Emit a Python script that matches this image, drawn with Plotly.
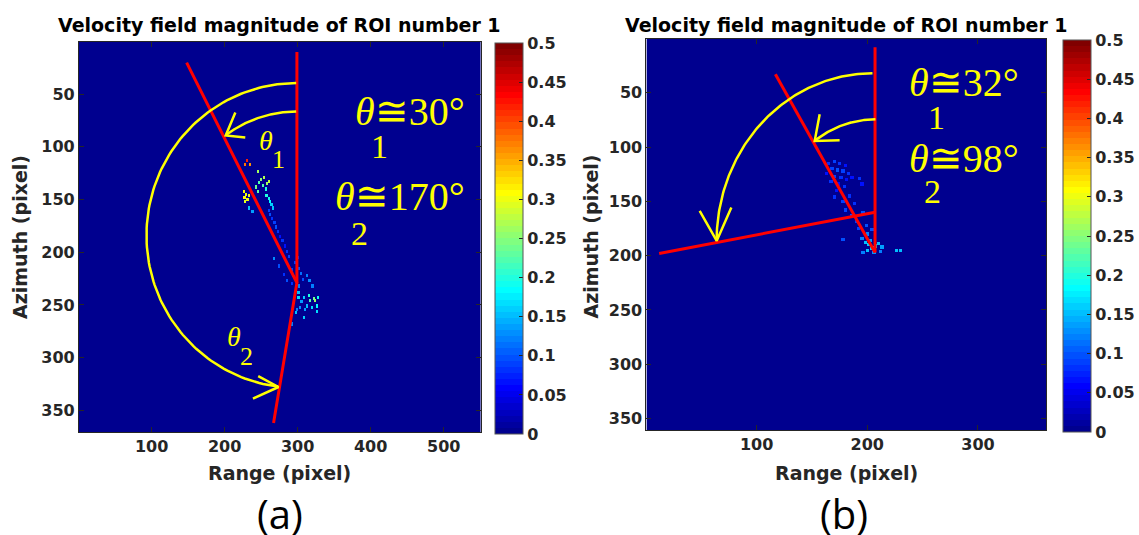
import numpy as np
import plotly.graph_objects as go

W, H = 1139, 535

# ---------------- data ----------------
A_NX, A_NY = 550, 370          # panel (a) image size (range x azimuth)
B_NX, B_NY = 361, 360          # panel (b) image size

A_XTICKS = [100, 200, 300, 400, 500]
A_YTICKS = [50, 100, 150, 200, 250, 300, 350]
B_XTICKS = [100, 200, 300]
B_YTICKS = [50, 100, 150, 200, 250, 300, 350]
CBAR_TICKS = [0, 0.05, 0.1, 0.15, 0.2, 0.25, 0.3, 0.35, 0.4, 0.45, 0.5]
CBAR_LABELS = ["0", "0.05", "0.1", "0.15", "0.2", "0.25", "0.3", "0.35", "0.4", "0.45", "0.5"]

# non-zero velocity pixels, panel (a): range, azimuth, magnitude
A_SPECK_X = [230, 228, 235, 246, 261,
             243, 247, 250, 254, 252, 256, 246, 258,
             226, 229, 227, 231, 233, 228,
             257, 260, 262, 264, 266, 233, 238,
             260, 262, 265, 268, 270, 273, 276, 279, 282, 285, 288,
             267, 274, 281, 285, 292, 293, 292, 301, 304, 307, 302, 312, 316, 320, 296, 300,
             301, 301, 308, 315, 317, 322, 324, 328, 326, 326, 313, 310, 308, 303, 299, 297, 292, 305, 319]
A_SPECK_Y = [113, 117, 117, 123, 133,
             138, 134, 131, 129, 137, 140, 142, 135,
             142, 145, 148, 150, 146, 152,
             146, 149, 152, 155, 158, 158, 161,
             160, 164, 168, 172, 176, 180, 185, 189, 194, 199, 204,
             206, 213, 221, 227, 216, 222, 230, 215, 220, 226, 232, 222, 227, 232, 210, 205,
             238, 243, 243, 241, 246, 244, 246, 243, 251, 256, 251, 254, 262, 252, 254, 257, 268, 247, 252]
A_SPECK_V = [0.42, 0.38, 0.36, 0.26, 0.28,
             0.24, 0.22, 0.25, 0.27, 0.22, 0.20, 0.23, 0.26,
             0.31, 0.30, 0.31, 0.30, 0.30, 0.29,
             0.20, 0.19, 0.18, 0.16, 0.15, 0.15, 0.14,
             0.09, 0.10, 0.08, 0.09, 0.10, 0.08, 0.07, 0.08, 0.07, 0.08, 0.09,
             0.13, 0.10, 0.08, 0.10, 0.09, 0.10, 0.08, 0.10, 0.11, 0.10, 0.12, 0.12, 0.13, 0.12, 0.09, 0.08,
             0.15, 0.17, 0.16, 0.20, 0.22, 0.24, 0.26, 0.19, 0.18, 0.17, 0.15, 0.14, 0.16, 0.13, 0.12, 0.15, 0.12, 0.14, 0.17]

# non-zero velocity pixels, panel (b)
B_SPECK_X = [165, 170, 175, 180, 168, 173, 178, 183, 163, 170, 176, 181, 186, 167, 174, 179, 172,
             193, 195, 170, 178, 184, 188, 180, 186, 190, 196, 199, 192, 178, 204, 200,
             195, 198, 201, 204, 207, 210, 213, 203, 200, 206, 196, 212, 226, 230]
B_SPECK_Y = [115, 113, 115, 117, 120, 121, 122, 124, 124, 127, 128, 130, 128, 132, 134, 136, 140,
             129, 134, 146, 150, 145, 152, 158, 163, 168, 160, 172, 175, 185, 176, 180,
             184, 188, 190, 193, 191, 189, 192, 186, 195, 197, 197, 196, 195, 195]
B_SPECK_V = [0.08, 0.09, 0.08, 0.07, 0.09, 0.10, 0.09, 0.08, 0.07, 0.09, 0.08, 0.07, 0.07, 0.08, 0.07, 0.08, 0.07,
             0.08, 0.07, 0.08, 0.09, 0.08, 0.08, 0.09, 0.10, 0.09, 0.10, 0.10, 0.09, 0.10, 0.10, 0.12,
             0.12, 0.15, 0.16, 0.16, 0.17, 0.15, 0.14, 0.14, 0.15, 0.13, 0.12, 0.12, 0.15, 0.15]

# red direction lines (data units)
A_LINE_X = [148, 299, 267]
A_LINE_Y = [20, 229, 362]
A_VLINE_X = [299, 299]
A_VLINE_Y = [10, 229]
B_LINE1_X = [117, 207]
B_LINE1_Y = [33, 197]
B_LINE2_X = [12, 207]
B_LINE2_Y = [198, 160]
B_VLINE_X = [207, 207]
B_VLINE_Y = [8, 197]

# yellow angle arcs: centre x, centre y, radius x, radius y, sweep (deg)
A_OUTER_ARC = (298, 184, 205, 144.5, 173)
A_INNER_ARC = (298, 177.3, 159.7, 110.8, 37)
B_OUTER_ARC = (204.7, 186.3, 140.8, 154.3, 90)
B_INNER_ARC = (207.4, 163.2, 87.2, 88.7, 39)
# arrow heads: barb, tip, barb
A_OUTER_HEAD_X = [246, 273.8, 238.8]
A_OUTER_HEAD_Y = [317.4, 327.8, 338.8]
A_INNER_HEAD_X = [214.7, 201.5, 228.3]
A_INNER_HEAD_Y = [67.4, 89.2, 91.1]
B_OUTER_HEAD_X = [48.6, 64.0, 77.2]
B_OUTER_HEAD_Y = [158.7, 186.3, 155.6]
B_INNER_HEAD_X = [157, 152.5, 175]
B_INNER_HEAD_Y = [69.8, 94.3, 93.7]

# ---------------- helpers ----------------
def jet64():
    cs = []
    for i in range(64):
        x = (i + 1) / 64.0
        r = min(max(1.5 - abs(4 * x - 3), 0), 1)
        g = min(max(1.5 - abs(4 * x - 2), 0), 1)
        b = min(max(1.5 - abs(4 * x - 1), 0), 1)
        c = "rgb(%d,%d,%d)" % (round(r * 255), round(g * 255), round(b * 255))
        cs.append([i / 64.0, c])
        cs.append([(i + 1) / 64.0, c])
    return cs

JET = jet64()


def make_field(nx, ny, xs, ys, vs, half=1):
    z = np.zeros((ny, nx))
    for x, y, v in zip(xs, ys, vs):
        z[max(y - 1 - half, 0):y + half, max(x - 1 - half, 0):x + half] = v
    return z


def arc(params, n=120):
    cx, cy, rx, ry, sweep = params
    p = np.radians(np.linspace(0, sweep, n))
    return cx - rx * np.sin(p), cy - ry * np.cos(p)


zA = make_field(A_NX, A_NY, A_SPECK_X, A_SPECK_Y, A_SPECK_V)
zB = make_field(B_NX, B_NY, B_SPECK_X, B_SPECK_Y, B_SPECK_V)

FONT = "DejaVu Sans"
TXT = "#262626"

fig = go.Figure()


def cbar(x0, yc, length):
    return dict(
        thickness=28, thicknessmode="pixels", len=length, lenmode="pixels",
        x=x0 / W, xanchor="left", y=1 - yc / H, yanchor="middle",
        xpad=0, ypad=0, outlinewidth=1, outlinecolor="#555555",
        tickvals=CBAR_TICKS, ticktext=["<b>%s</b>" % t for t in CBAR_LABELS],
        ticks="inside", ticklen=4, tickcolor=TXT,
        tickfont=dict(family=FONT, size=16, color=TXT),
    )


fig.add_trace(go.Heatmap(z=zA, x=np.arange(1, A_NX + 1), y=np.arange(1, A_NY + 1),
                         colorscale=JET, zmin=0, zmax=0.5, zsmooth=False,
                         colorbar=cbar(495, 238.5, 391), xaxis="x", yaxis="y",
                         hoverinfo="skip"))
fig.add_trace(go.Heatmap(z=zB, x=np.arange(1, B_NX + 1), y=np.arange(1, B_NY + 1),
                         colorscale=JET, zmin=0, zmax=0.5, zsmooth=False,
                         colorbar=cbar(1063, 236, 392), xaxis="x2", yaxis="y2",
                         hoverinfo="skip"))

RED = dict(color="#ff0000", width=3)
YEL = dict(color="#ffff00", width=2.5)
for xs, ys, ax, ay in [(A_LINE_X, A_LINE_Y, "x", "y"), (A_VLINE_X, A_VLINE_Y, "x", "y"),
                       (B_LINE1_X, B_LINE1_Y, "x2", "y2"), (B_LINE2_X, B_LINE2_Y, "x2", "y2"),
                       (B_VLINE_X, B_VLINE_Y, "x2", "y2")]:
    fig.add_trace(go.Scatter(x=xs, y=ys, mode="lines", line=RED, xaxis=ax, yaxis=ay,
                             showlegend=False, hoverinfo="skip"))

for prm, hx, hy, ax, ay in [(A_OUTER_ARC, A_OUTER_HEAD_X, A_OUTER_HEAD_Y, "x", "y"),
                            (A_INNER_ARC, A_INNER_HEAD_X, A_INNER_HEAD_Y, "x", "y"),
                            (B_OUTER_ARC, B_OUTER_HEAD_X, B_OUTER_HEAD_Y, "x2", "y2"),
                            (B_INNER_ARC, B_INNER_HEAD_X, B_INNER_HEAD_Y, "x2", "y2")]:
    ax_, ay_ = arc(prm)
    fig.add_trace(go.Scatter(x=ax_, y=ay_, mode="lines", line=YEL, xaxis=ax, yaxis=ay,
                             showlegend=False, hoverinfo="skip"))
    fig.add_trace(go.Scatter(x=hx, y=hy, mode="lines", line=YEL, xaxis=ax, yaxis=ay,
                             showlegend=False, hoverinfo="skip"))


def axis(domain, rng, ticks, anchor):
    return dict(domain=domain, range=rng, tickvals=ticks,
                ticktext=["<b>%d</b>" % t for t in ticks],
                showgrid=False, zeroline=False, showline=True, linecolor=TXT, linewidth=1,
                mirror="ticks", ticks="inside", ticklen=5, tickcolor=TXT,
                tickfont=dict(family=FONT, size=16, color=TXT), anchor=anchor)


fig.update_layout(
    width=W, height=H, margin=dict(l=0, r=0, t=0, b=0),
    paper_bgcolor="white", plot_bgcolor="white", showlegend=False,
    xaxis=axis([79 / W, 481 / W], [0.5, A_NX + 0.5], A_XTICKS, "y"),
    yaxis=axis([1 - 432 / H, 1 - 42 / H], [A_NY + 0.5, 0.5], A_YTICKS, "x"),
    xaxis2=axis([647 / W, 1047 / W], [0.5, B_NX + 0.5], B_XTICKS, "y2"),
    yaxis2=axis([1 - 430 / H, 1 - 39 / H], [B_NY + 0.5, 0.5], B_YTICKS, "x2"),
)

ann = []
TITLE = "<b>Velocity field magnitude of ROI number 1</b>"
for cx in [280, 847]:
    ann.append(dict(text=TITLE, x=cx / W, y=1 - 25 / H, xref="paper", yref="paper",
                    showarrow=False, xanchor="center", yanchor="middle",
                    font=dict(family=FONT, size=19, color="black")))
    ann.append(dict(text="<b>Range (pixel)</b>", x=cx / W, y=1 - 473 / H, xref="paper", yref="paper",
                    showarrow=False, xanchor="center", yanchor="middle",
                    font=dict(family=FONT, size=19, color=TXT)))
for lx, ly in [(20, 237), (592, 236)]:
    ann.append(dict(text="<b>Azimuth (pixel)</b>", x=lx / W, y=1 - ly / H, xref="paper", yref="paper",
                    showarrow=False, textangle=-90, xanchor="center", yanchor="middle",
                    font=dict(family=FONT, size=19, color=TXT)))
for t, cx in [("(a)", 280), ("(b)", 845)]:
    ann.append(dict(text=t, x=cx / W, y=1 - 513 / H, xref="paper", yref="paper",
                    showarrow=False, xanchor="center", yanchor="middle",
                    font=dict(family="Open Sans", size=40, color="black")))

SERIF = "Liberation Serif, DejaVu Serif"
YC = "#ffff00"
labels = [
    ("<i>θ</i>≅30°", 453.6, 66.8, 40, "x", "y"),
    ("1", 412.6, 99.5, 34, "x", "y"),
    ("<i>θ</i>≅170°", 440, 147.3, 40, "x", "y"),
    ("2", 385.3, 182, 34, "x", "y"),
    ("<i>θ</i>", 256.3, 94.2, 28, "x", "y"),
    ("1", 274, 112.2, 26, "x", "y"),
    ("<i>θ</i>", 212.6, 279.8, 28, "x", "y"),
    ("2", 230.4, 299.2, 26, "x", "y"),
    ("<i>θ</i>≅32°", 287, 40.6, 40, "x2", "y2"),
    ("1", 262.5, 73, 34, "x2", "y2"),
    ("<i>θ</i>≅98°", 287.3, 110.5, 40, "x2", "y2"),
    ("2", 259, 141, 34, "x2", "y2"),
]
for t, x, y, s, xr, yr in labels:
    ann.append(dict(text=t, x=x, y=y, xref=xr, yref=yr, showarrow=False,
                    xanchor="center", yanchor="middle",
                    font=dict(family=SERIF, size=s, color=YC)))

fig.update_layout(annotations=ann)
fig.write_html("out.html")
